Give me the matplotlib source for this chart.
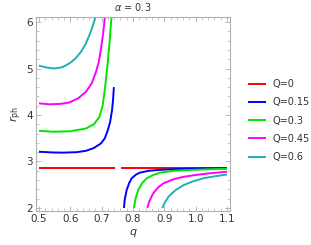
import matplotlib
matplotlib.use("Agg")
import matplotlib.pyplot as plt
from matplotlib.ticker import MultipleLocator

# Data (q, r_ph)
labels = ["Q=0", "Q=0.15", "Q=0.3", "Q=0.45", "Q=0.6"]
colors = ["#ff0000", "#0000ff", "#00e600", "#ff00ff", "#1fb0b0"]

red_left_q = [0.5, 0.741]
red_left_r = [2.86, 2.86]
red_right_q = [0.762, 1.1]
red_right_r = [2.86, 2.86]

blue_left_q = [0.5, 0.54, 0.576, 0.62, 0.65, 0.675, 0.698, 0.71, 0.719, 0.727, 0.733, 0.736, 0.739]
blue_left_r = [3.21, 3.195, 3.19, 3.2, 3.23, 3.29, 3.39, 3.5, 3.66, 3.85, 4.1, 4.3, 4.6]
blue_right_q = [0.771, 0.774, 0.78, 0.788, 0.796, 0.81, 0.822, 0.85, 0.886, 0.95, 1.02, 1.1]
blue_right_r = [2.0, 2.2, 2.39, 2.54, 2.64, 2.72, 2.76, 2.8, 2.82, 2.84, 2.85, 2.855]

green_left_q = [0.5, 0.544, 0.6, 0.65, 0.675, 0.693, 0.703, 0.711, 0.719, 0.725, 0.73, 0.733]
green_left_r = [3.66, 3.64, 3.65, 3.71, 3.8, 3.96, 4.2, 4.6, 5.1, 5.55, 6.0, 6.2]
green_right_q = [0.803, 0.808, 0.817, 0.83, 0.844, 0.865, 0.886, 0.93, 0.993, 1.05, 1.1]
green_right_r = [2.0, 2.2, 2.39, 2.54, 2.64, 2.71, 2.76, 2.8, 2.82, 2.835, 2.84]

mag_left_q = [0.5, 0.533, 0.57, 0.597, 0.625, 0.65, 0.668, 0.682, 0.691, 0.698, 0.704, 0.709, 0.712]
mag_left_r = [4.25, 4.23, 4.24, 4.27, 4.36, 4.5, 4.68, 4.93, 5.15, 5.43, 5.72, 6.02, 6.2]
mag_right_q = [0.846, 0.851, 0.858, 0.865, 0.88, 0.897, 0.93, 0.961, 1.0, 1.05, 1.1]
mag_right_r = [2.0, 2.12, 2.23, 2.32, 2.44, 2.53, 2.62, 2.67, 2.71, 2.75, 2.78]

teal_left_q = [0.5, 0.525, 0.549, 0.575, 0.597, 0.617, 0.634, 0.649, 0.661, 0.67, 0.677, 0.682]
teal_left_r = [5.06, 5.02, 5.0, 5.03, 5.11, 5.22, 5.36, 5.53, 5.72, 5.88, 6.04, 6.2]
teal_right_q = [0.894, 0.9, 0.913, 0.935, 0.961, 0.99, 1.025, 1.06, 1.1]
teal_right_r = [2.0, 2.1, 2.24, 2.38, 2.49, 2.57, 2.64, 2.68, 2.72]

series = [
    [(red_left_q, red_left_r), (red_right_q, red_right_r)],
    [(blue_left_q, blue_left_r), (blue_right_q, blue_right_r)],
    [(green_left_q, green_left_r), (green_right_q, green_right_r)],
    [(mag_left_q, mag_left_r), (mag_right_q, mag_right_r)],
    [(teal_left_q, teal_left_r), (teal_right_q, teal_right_r)],
]

plt.rcParams['font.family'] = ['DejaVu Sans']
fig = plt.figure(figsize=(3.11, 2.45), dpi=100)
ax = fig.add_axes([36/311, 1-211/245, 194/311, 194/245])

handles = []
for (branches, col, lab) in zip(series, colors, labels):
    for i, (qq, rr) in enumerate(branches):
        h, = ax.plot(qq, rr, color=col, lw=1.4, solid_capstyle='butt',
                     label=lab if i == 0 else None)
        if i == 0:
            handles.append(h)

ax.set_xlim(0.4904, 1.1096)
ax.set_ylim(1.935, 6.108)
ax.xaxis.set_major_locator(MultipleLocator(0.1))
ax.xaxis.set_minor_locator(MultipleLocator(0.02))
ax.yaxis.set_major_locator(MultipleLocator(1))
ax.yaxis.set_minor_locator(MultipleLocator(0.2))
ax.xaxis.set_major_formatter(matplotlib.ticker.FuncFormatter(lambda v, p: f"{v:.1f}"))
ax.yaxis.set_major_formatter(matplotlib.ticker.FuncFormatter(lambda v, p: f"{v:.0f}"))

frame_col = "#b0b0b0"
for s in ax.spines.values():
    s.set_color(frame_col)
    s.set_linewidth(0.8)
ax.tick_params(which='both', direction='in', top=True, right=True, color=frame_col,
               labelsize=7.5, labelcolor='#333333', pad=2)
ax.tick_params(which='major', length=3.5, width=0.6)
ax.tick_params(which='minor', length=2, width=0.5)

ax.set_xlabel("$q$", fontsize=8, color='#333333', labelpad=2)
ax.set_ylabel(r"$r_{\rm ph}$", fontsize=8, color='#333333', labelpad=2)
fig.text(133/311, 1-7/245, r"$\alpha$ = 0.3", ha='center', va='center',
         fontsize=7, color='#333333')

leg = fig.legend(handles=handles, loc='upper left', bbox_to_anchor=(248/311, 1-79/245),
                 frameon=False, fontsize=7, handlelength=1.9, handletextpad=0.6,
                 labelspacing=0.85, borderaxespad=0, borderpad=0)
for t in leg.get_texts():
    t.set_color('#333333')

fig.savefig("out.png", dpi=100)
